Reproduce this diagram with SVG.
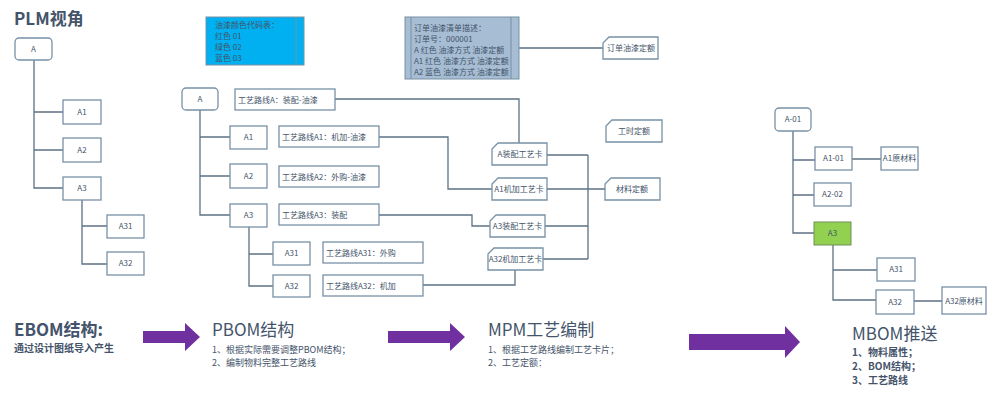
<svg xmlns="http://www.w3.org/2000/svg" width="1000" height="403" viewBox="0 0 1000 403">
<style>
text{font-family:"Noto Sans CJK SC","Noto Sans",sans-serif;fill:#44546A}
.b{fill:#fff;stroke:#7891A6;stroke-width:1.3}
.t{font-size:8px;text-anchor:middle}
.l{font-size:8px}
.c{fill:none;stroke:#5C7184;stroke-width:1.3}
.h{font-weight:bold}
.ar{fill:#7030A0}
</style>
<text x="14" y="25" class="h" font-size="17" style="fill:#44546A">PLM视角</text>
<g id="connectors">
<path class="c" d="M34 60V188H63M34 112H63M34 150H63M82 200V264H107M82 226H107"/>
<path class="c" d="M200 110V215H230M200 137H230M200 176H230M249 227V286H273M249 254H273"/>
<path class="c" d="M519 48H603M335 99H519V143M379 137H448V189H492M379 215H472V226H490M423 285H515V270"/>
<path class="c" d="M547 155H588M547 189H605M545 226H588M543 259H588M588 155V259"/>
<path class="c" d="M793 131V233H814M793 160H815M793 195H814M852 159H881M833 245V300H876M833 270H877M914 301H942"/>
</g>
<g id="plm">
<rect class="b" x="15" y="38" width="37" height="22" rx="4"/><text class="t" x="33.500" y="52">A</text>
<rect class="b" x="63" y="100" width="38" height="24"/><text class="t" x="82" y="115">A1</text>
<rect class="b" x="63" y="138" width="38" height="24"/><text class="t" x="82" y="153">A2</text>
<rect class="b" x="63" y="177" width="38" height="23"/><text class="t" x="82" y="191">A3</text>
<rect class="b" x="107" y="215" width="37" height="23"/><text class="t" x="125.500" y="229">A31</text>
<rect class="b" x="107" y="252" width="37" height="23"/><text class="t" x="125.500" y="266">A32</text>
</g>
<g id="colorTable">
<rect x="206" y="17" width="98" height="48" fill="#00B0F0" stroke="#7891A6"/>
<line x1="296" y1="17" x2="296" y2="65" stroke="#7891A6"/>
<text class="l" x="215" y="28">油漆颜色代码表：</text>
<text class="l" x="215" y="39">红色    01</text>
<text class="l" x="215" y="50">绿色    02</text>
<text class="l" x="215" y="61">蓝色    03</text>
</g>
<g id="orderList">
<rect x="405" y="17" width="114" height="62" fill="#A6BDD3" stroke="#7891A6"/>
<line x1="411" y1="17" x2="411" y2="79" stroke="#7891A6"/>
<line x1="511" y1="17" x2="511" y2="79" stroke="#7891A6"/>
<text class="l" x="414" y="31">订单油漆清单描述：</text>
<text class="l" x="414" y="42">订单号：000001</text>
<text class="l" x="414" y="53">A 红色  油漆方式 油漆定额</text>
<text class="l" x="414" y="64">A1 红色  油漆方式 油漆定额</text>
<text class="l" x="414" y="75">A2  蓝色 油漆方式 油漆定额</text>
</g>
<g id="pbom">
<rect class="b" x="182" y="88" width="36" height="22" rx="4"/><text class="t" x="200" y="102">A</text>
<rect class="b" x="235" y="89" width="100" height="21"/><text class="l" x="238" y="103">工艺路线A：装配-油漆</text>
<rect class="b" x="230" y="126" width="37" height="23"/><text class="t" x="248.500" y="140">A1</text>
<rect class="b" x="279" y="126" width="100" height="21"/><text class="l" x="282" y="140">工艺路线A1：机加-油漆</text>
<rect class="b" x="230" y="164" width="37" height="24"/><text class="t" x="248.500" y="179">A2</text>
<rect class="b" x="279" y="166" width="100" height="21"/><text class="l" x="282" y="180">工艺路线A2：外购-油漆</text>
<rect class="b" x="230" y="204" width="37" height="23"/><text class="t" x="248.500" y="218">A3</text>
<rect class="b" x="279" y="204" width="100" height="21"/><text class="l" x="282" y="218">工艺路线A3：装配</text>
<rect class="b" x="273" y="242" width="37" height="23"/><text class="t" x="291.500" y="256">A31</text>
<rect class="b" x="323" y="242" width="100" height="21"/><text class="l" x="326" y="256">工艺路线A31：外购</text>
<rect class="b" x="273" y="275" width="37" height="22"/><text class="t" x="291.500" y="289">A32</text>
<rect class="b" x="323" y="275" width="100" height="21"/><text class="l" x="326" y="289">工艺路线A32：机加</text>
</g>
<g id="cards">
<path class="b" d="M609 37H658V59H603V43Z"/><text class="t" x="631" y="51">订单油漆定额</text>
<path class="b" d="M612 120H662V142H606V126Z"/><text class="t" x="634" y="134">工时定额</text>
<path class="b" d="M611 178H660V200H605V184Z"/><text class="t" x="632" y="192">材料定额</text>
<path class="b" d="M498 143H547V165H492V149Z"/><text class="t" x="520" y="157">A装配工艺卡</text>
<path class="b" d="M498 178H547V200H492V184Z"/><text class="t" x="519" y="192">A1机加工艺卡</text>
<path class="b" d="M496 215H545V237H490V221Z"/><text class="t" x="517.500" y="229">A3装配工艺卡</text>
<path class="b" d="M494 248H543V270H488V254Z"/><text class="t" x="515.500" y="262">A32机加工艺卡</text>
</g>
<g id="mbom">
<rect class="b" x="775" y="108" width="36" height="23" rx="4"/><text class="t" x="793" y="122">A-01</text>
<rect class="b" x="815" y="147" width="37" height="23"/><text class="t" x="833.500" y="161">A1-01</text>
<rect class="b" x="881" y="147" width="37" height="23"/><text class="t" x="899.500" y="161">A1原材料</text>
<rect class="b" x="814" y="183" width="37" height="23"/><text class="t" x="832.500" y="197">A2-02</text>
<rect x="814" y="222" width="37" height="23" fill="#92D050" stroke="#6E8F5A"/><text class="t" x="832.500" y="236">A3</text>
<rect class="b" x="877" y="258" width="38" height="23"/><text class="t" x="896" y="272">A31</text>
<rect class="b" x="876" y="290" width="38" height="24"/><text class="t" x="895" y="305">A32</text>
<rect class="b" x="942" y="287" width="44" height="27"/><text class="t" x="964" y="304">A32原材料</text>
</g>
<g id="arrows">
<path class="ar" d="M143 331H185V323L200 337L185 351V343H143Z"/>
<path class="ar" d="M388 331H450V323L465 337L450 351V343H388Z"/>
<path class="ar" d="M689 334H785V326L800 342L785 358V350H689Z"/>
</g>
<g id="captions">
<text x="14" y="336" class="h" font-size="17">EBOM结构:</text>
<text x="14" y="352" class="h" font-size="10">通过设计图纸导入产生</text>
<text x="212" y="336" font-size="17">PBOM结构</text>
<text x="212" y="353" font-size="9">1、根据实际需要调整PBOM结构；</text>
<text x="212" y="366" font-size="9">2、编制物料完整工艺路线</text>
<text x="488" y="336" font-size="17">MPM工艺编制</text>
<text x="488" y="353" font-size="9">1、根据工艺路线编制工艺卡片；</text>
<text x="488" y="366" font-size="9">2、工艺定额：</text>
<text x="852" y="340" font-size="17">MBOM推送</text>
<text x="852" y="356" class="h" font-size="10">1、物料属性；</text>
<text x="852" y="370" class="h" font-size="10">2、BOM结构；</text>
<text x="852" y="384" class="h" font-size="10">3、工艺路线</text>
</g>
</svg>
